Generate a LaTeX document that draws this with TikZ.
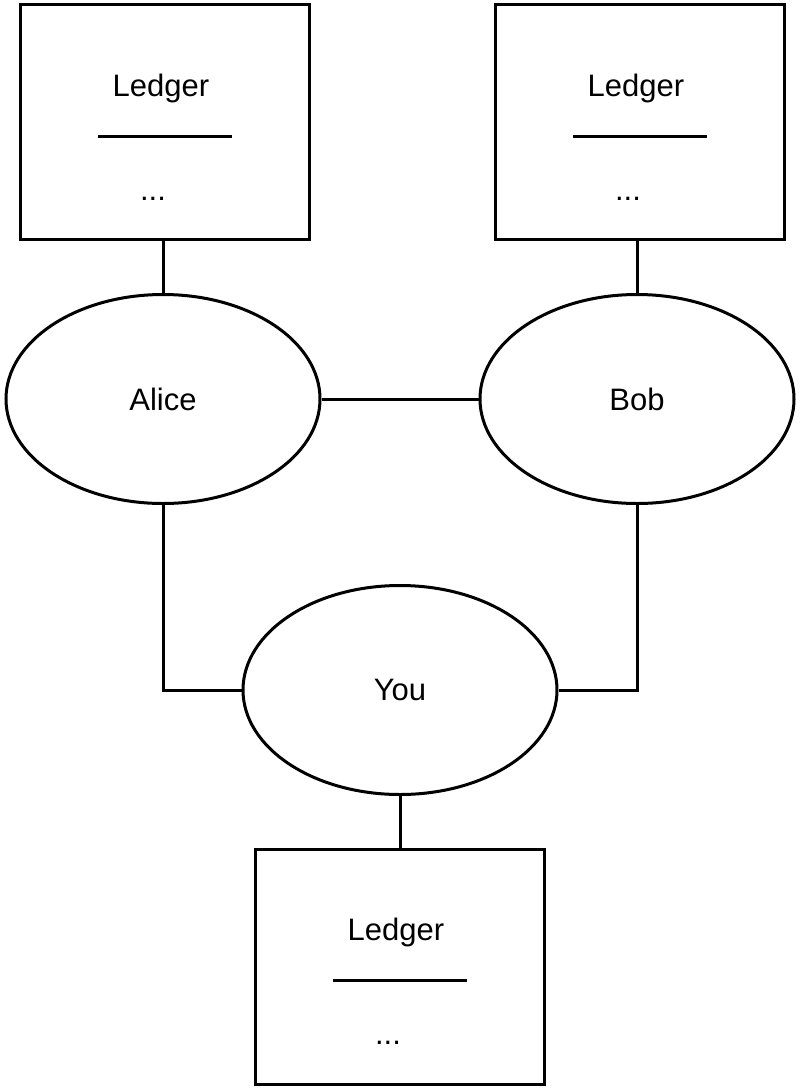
\documentclass[tikz,border=0pt]{standalone}
\usepackage{fontspec}
\setmainfont{Liberation Sans}
\usetikzlibrary{shapes.geometric}

\tikzset{
  ledgerbox/.style={draw, line width=3pt, minimum width=289pt, minimum height=235pt},
  person/.style={draw, ellipse, line width=3pt, minimum width=314pt, minimum height=209pt,
    font=\fontsize{31}{37}\selectfont},
  ledgertext/.style={inner sep=0pt, font=\fontsize{31}{37}\selectfont},
}

\begin{document}
\begin{tikzpicture}[x=1pt, y=-1pt, line width=3pt]
    \useasboundingbox (0, 0) rectangle (800, 1090);

    \node[ledgerbox] (la) at (165, 122) {};
    \node[ledgerbox] (lb) at (640, 122) {};
    \node[ledgerbox] (ly) at (400, 966.5) {};

    \node[person] (alice) at (163, 399) {Alice};
    \node[person] (bob) at (637, 399) {Bob};
    \node[person] (you) at (400, 690) {You};

    % inside of each ledger
    \foreach \l in {la, lb, ly} {
      \node[ledgertext, anchor=base] (\l-title) at ([xshift=-4pt, yshift=26pt]\l.center) {Ledger};
      \coordinate (\l-w) at ([xshift=-67pt, yshift=-14pt]\l.center);
      \coordinate (\l-e) at ([xshift=67pt, yshift=-14pt]\l.center);
      \draw (\l-w) -- (\l-e);
      \node[ledgertext, anchor=base] (\l-dots) at ([xshift=-12pt, yshift=-78pt]\l.center) {...};
    }

    \draw (alice.north |- la.south) -- (alice.north);
    \draw (bob.north |- lb.south) -- (bob.north);
    \draw (alice.east) -- (bob.west);
    \draw (alice.south) |- (you.west);
    \draw (bob.south) |- (you.east);
    \draw (you.south) -- (you.south |- ly.north);
  \end{tikzpicture}
\end{document}
